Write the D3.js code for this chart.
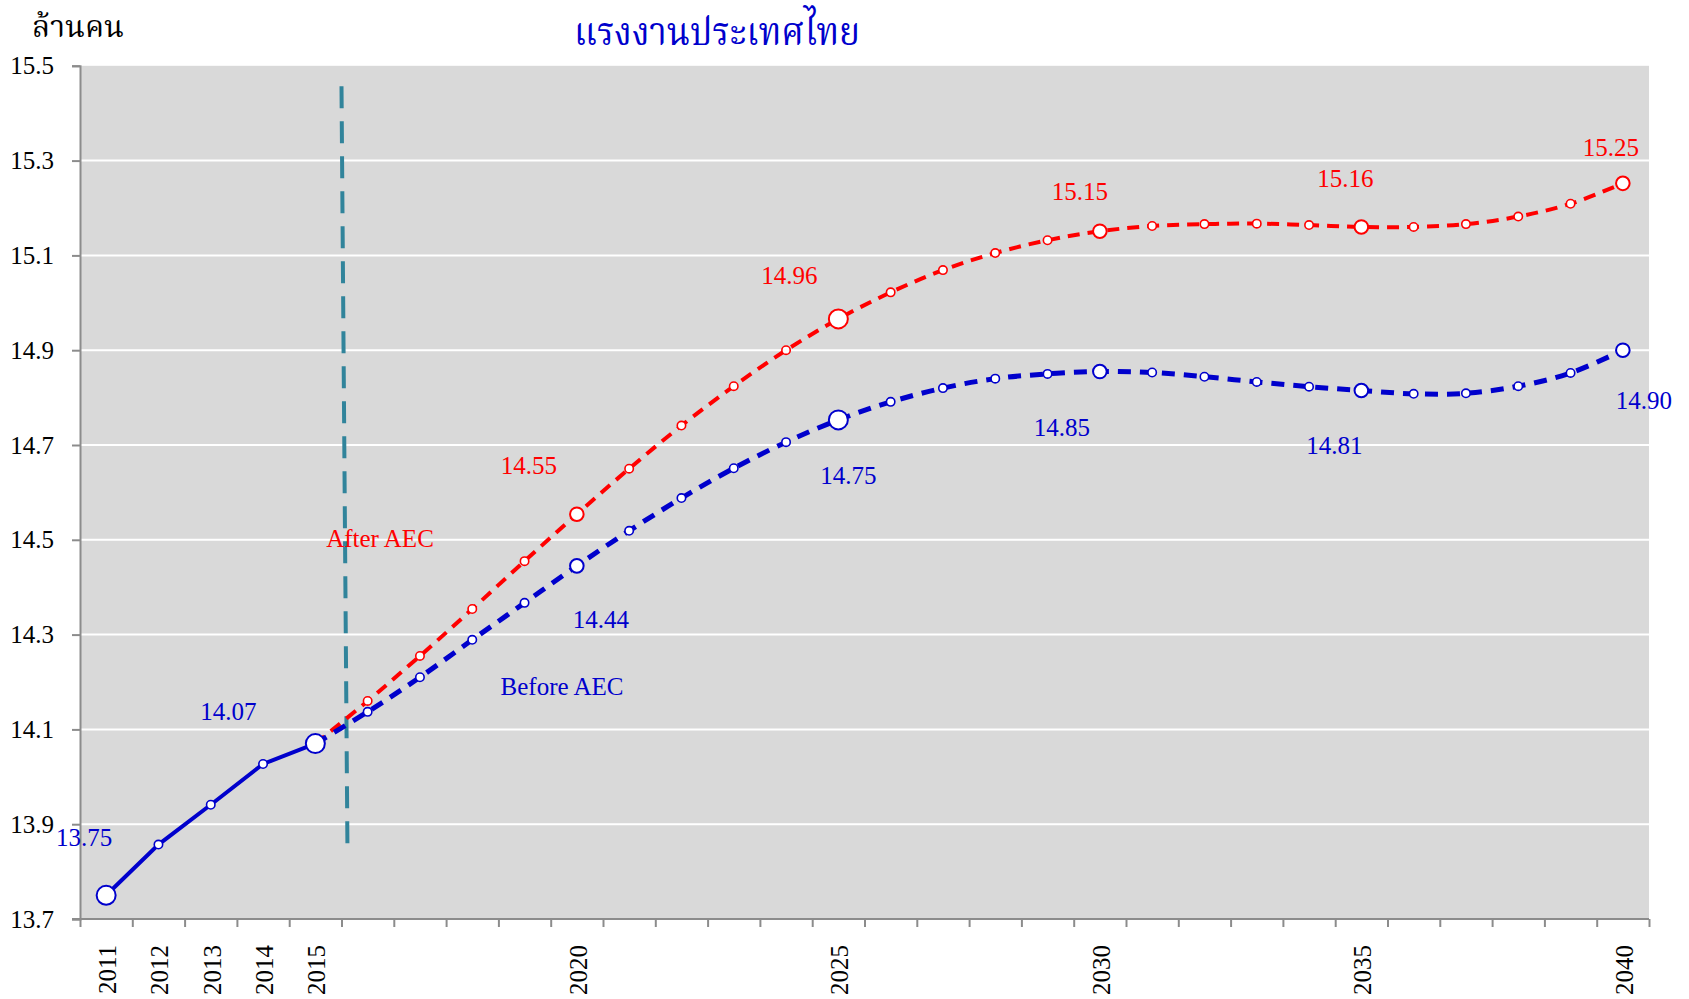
<!DOCTYPE html>
<html>
<head>
<meta charset="utf-8">
<script src="https://cdn.jsdelivr.net/npm/d3@7"></script>
<style>
  html, body { margin: 0; padding: 0; background: #ffffff; }
  svg { display: block; }
  text { font-family: "Liberation Serif", "Times New Roman", serif; }
  .thai { font-family: "Norasi", "Noto Serif Thai", "Tlwg Typo", "Liberation Serif", serif; font-weight: normal; }
</style>
</head>
<body>
<svg id="chart" width="1689" height="999"></svg>
<script>
// ---------------- data ----------------
const years = [2011,2012,2013,2014,2015,2016,2017,2018,2019,2020,
               2021,2022,2023,2024,2025,2026,2027,2028,2029,2030,
               2031,2032,2033,2034,2035,2036,2037,2038,2039,2040];
const labelledYears = [2011,2012,2013,2014,2015,2020,2025,2030,2035,2040];
const yTicks = [13.7,13.9,14.1,14.3,14.5,14.7,14.9,15.1,15.3,15.5];

const observedYears = [2011,2012,2013,2014,2015];
const observed = [13.75,13.857,13.941,14.027,14.07];

const projYears = [2015,2016,2017,2018,2019,2020,2021,2022,2023,2024,2025,2026,2027,
                   2028,2029,2030,2031,2032,2033,2034,2035,2036,2037,2038,2039,2040];
const beforeAEC = [14.07,14.137,14.21,14.289,14.367,14.445,14.519,14.588,14.651,14.706,
                   14.753,14.791,14.82,14.84,14.85,14.855,14.853,14.844,14.833,14.823,
                   14.815,14.808,14.809,14.824,14.852,14.90];
const afterAEC  = [14.07,14.16,14.255,14.354,14.455,14.554,14.65,14.741,14.824,14.90,
                   14.966,15.022,15.069,15.105,15.132,15.151,15.162,15.166,15.167,15.164,
                   15.16,15.16,15.166,15.182,15.209,15.252];

const valueLabelsBlue = [
  {year: 2011, value: 13.75, text: "13.75"},
  {year: 2015, value: 14.07, text: "14.07"},
  {year: 2020, value: 14.445, text: "14.44"},
  {year: 2025, value: 14.753, text: "14.75"},
  {year: 2030, value: 14.855, text: "14.85"},
  {year: 2035, value: 14.815, text: "14.81"},
  {year: 2040, value: 14.90, text: "14.90"}
];
const valueLabelsRed = [
  {year: 2020, value: 14.554, text: "14.55"},
  {year: 2025, value: 14.966, text: "14.96"},
  {year: 2030, value: 15.151, text: "15.15"},
  {year: 2035, value: 15.16, text: "15.16"},
  {year: 2040, value: 15.252, text: "15.25"}
];
const titleText = "แรงงานประเทศไทย";
const unitText = "ล้านคน";
const seriesNames = ["Before AEC", "After AEC"];
const aecYear = 2015.5;

// ---------------- layout / style ----------------
const W = 1689, H = 999;
const plot = {left: 80, right: 1649, top: 65.8, bottom: 919};
const BLUE = "#0000CC", RED = "#FF0000", TEAL = "#31849B";
const AXIS = "#8c8c8c";

// label offsets (px) relative to the point
const blueOffsets = {2011: [-22,-49], 2015: [-87,-24], 2020: [24,62], 2025: [10,64],
                     2030: [-38,64], 2035: [-27,64], 2040: [21,59]};
const redOffsets  = {2020: [-48,-40], 2025: [-49,-35], 2030: [-20,-31], 2035: [-16,-40], 2040: [-12,-27]};

const svg = d3.select("#chart");

const x = d3.scaleLinear().domain([2010.5, 2040.5]).range([plot.left, plot.right]);
const y = d3.scaleLinear().domain([13.7, 15.5]).range([plot.bottom, plot.top]);

// background
svg.append("rect")
  .attr("x", plot.left).attr("y", plot.top)
  .attr("width", plot.right - plot.left).attr("height", plot.bottom - plot.top)
  .attr("fill", "#D9D9D9");

// gridlines
svg.append("g").selectAll("line")
  .data(yTicks.filter(v => v > 13.7 && v < 15.5))
  .join("line")
  .attr("x1", plot.left).attr("x2", plot.right)
  .attr("y1", d => y(d)).attr("y2", d => y(d))
  .attr("stroke", "#ffffff").attr("stroke-width", 2);

// y axis
const yAxis = svg.append("g")
  .attr("transform", `translate(${plot.left},0)`)
  .call(d3.axisLeft(y).tickValues(yTicks).tickSize(8).tickPadding(18).tickFormat(d3.format(".1f")));
yAxis.select(".domain").attr("stroke", AXIS).attr("stroke-width", 2);
yAxis.selectAll(".tick line").attr("stroke", AXIS).attr("stroke-width", 2);
yAxis.selectAll(".tick text")
  .attr("font-family", "Liberation Serif").attr("font-size", 25).attr("fill", "#000");

// x axis: ticks at category boundaries
const boundaries = d3.range(2010.5, 2041, 1);
const xAxis = svg.append("g")
  .attr("transform", `translate(0,${plot.bottom})`)
  .call(d3.axisBottom(x).tickValues(boundaries).tickSize(8).tickFormat(""));
xAxis.select(".domain").attr("stroke", AXIS).attr("stroke-width", 2)
  .attr("d", `M${plot.left - 8},0H${plot.right}`);
xAxis.selectAll(".tick line").attr("stroke", AXIS).attr("stroke-width", 2);

// x labels (rotated)
svg.append("g").selectAll("text")
  .data(labelledYears)
  .join("text")
  .attr("transform", d => `translate(${x(d) + 1},${plot.bottom + 26}) rotate(-90)`)
  .attr("text-anchor", "end")
  .attr("dy", "0.35em")
  .attr("font-size", 25)
  .attr("fill", "#000")
  .text(d => d);

// AEC vertical dashed line (slightly slanted as in the original)
svg.append("line")
  .attr("x1", x(aecYear)).attr("y1", y(15.457))
  .attr("x2", x(aecYear) + 6).attr("y2", y(13.835))
  .attr("stroke", TEAL).attr("stroke-width", 4)
  .attr("stroke-dasharray", "22,13");

// lines
const lineLinear = d3.line().x(d => x(d[0])).y(d => y(d[1]));
const lineSmooth = d3.line().x(d => x(d[0])).y(d => y(d[1])).curve(d3.curveCatmullRom.alpha(0.5));

const obsPts = observedYears.map((yr, i) => [yr, observed[i]]);
const bluePts = projYears.map((yr, i) => [yr, beforeAEC[i]]);
const redPts = projYears.map((yr, i) => [yr, afterAEC[i]]);

svg.append("path").attr("d", lineSmooth(redPts))
  .attr("fill", "none").attr("stroke", RED).attr("stroke-width", 4)
  .attr("stroke-dasharray", "12,8");
svg.append("path").attr("d", lineSmooth(bluePts))
  .attr("fill", "none").attr("stroke", BLUE).attr("stroke-width", 5)
  .attr("stroke-dasharray", "13,9");
svg.append("path").attr("d", lineLinear(obsPts))
  .attr("fill", "none").attr("stroke", BLUE).attr("stroke-width", 4);

// markers
const bigYears = [2011, 2015, 2025];
const midYears = [2020, 2030, 2035, 2040];
const rOf = yr => bigYears.includes(yr) ? 9.5 : (midYears.includes(yr) ? 6.8 : 4.2);
const swOf = yr => rOf(yr) > 5 ? 2 : 1.6;

function markers(pts, color) {
  svg.append("g").selectAll("circle")
    .data(pts)
    .join("circle")
    .attr("cx", d => x(d[0])).attr("cy", d => y(d[1]))
    .attr("r", d => rOf(d[0]))
    .attr("fill", "#ffffff").attr("stroke", color)
    .attr("stroke-width", d => swOf(d[0]));
}
markers(redPts.slice(1), RED);
markers(bluePts.slice(1), BLUE);
markers(obsPts, BLUE);

// value labels
function valueLabels(list, offsets, color) {
  svg.append("g").selectAll("text")
    .data(list)
    .join("text")
    .attr("x", d => x(d.year) + offsets[d.year][0])
    .attr("y", d => y(d.value) + offsets[d.year][1])
    .attr("text-anchor", "middle")
    .attr("font-size", 25)
    .attr("fill", color)
    .text(d => d.text);
}
valueLabels(valueLabelsRed, redOffsets, RED);
valueLabels(valueLabelsBlue, blueOffsets, BLUE);

// series name labels
svg.append("text").attr("x", 380).attr("y", 547)
  .attr("text-anchor", "middle").attr("font-size", 25).attr("fill", RED)
  .text(seriesNames[1]);
svg.append("text").attr("x", 562).attr("y", 695)
  .attr("text-anchor", "middle").attr("font-size", 25).attr("fill", BLUE)
  .text(seriesNames[0]);

// title and unit
svg.append("text").attr("class", "thai").attr("x", 574).attr("y", 45)
  .attr("text-anchor", "start").attr("font-size", 40).attr("fill", BLUE)
  .attr("textLength", 286).attr("lengthAdjust", "spacingAndGlyphs")
  .text(titleText);
svg.append("text").attr("class", "thai").attr("x", 32).attr("y", 37)
  .attr("text-anchor", "start").attr("font-size", 31).attr("fill", "#000")
  .attr("textLength", 92).attr("lengthAdjust", "spacingAndGlyphs")
  .text(unitText);
</script>
</body>
</html>
